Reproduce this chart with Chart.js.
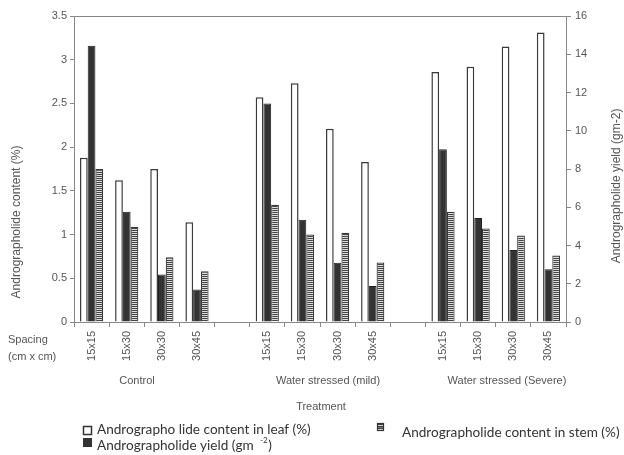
<!DOCTYPE html>
<html lang="en">
<head>
    <meta charset="UTF-8">
    <title>Andrographolide content and yield</title>
    <script src="https://cdn.jsdelivr.net/npm/chart.js"></script>
    <style>
        html, body {
            margin: 0;
            padding: 0;
            background: #fff;
        }
        .container {
            width: 624px;
            height: 455px;
        }
    </style>
</head>
<body>

<div class="container">
    <canvas id="andro-chart" width="624" height="455"></canvas>
</div>

<script>
    // categories (empty slots separate the three treatments)
    const spacings = ['15x15', '15x30', '30x30', '30x45', '',
                      '15x15', '15x30', '30x30', '30x45', '',
                      '15x15', '15x30', '30x30', '30x45'];
    const treatments = ['Control', 'Water stressed (mild)', 'Water stressed (Severe)'];

    // series values
    const leafContent = [1.88, 1.62, 1.75, 1.14, null, 2.57, 2.73, 2.21, 1.83, null, 2.86, 2.92, 3.15, 3.31];
    const yieldValues = [14.45, 5.77, 2.48, 1.70, null, 11.42, 5.35, 3.10, 1.88, null, 9.03, 5.44, 3.76, 2.76];
    const stemContent = [1.75, 1.09, 0.74, 0.58, null, 1.34, 1.00, 1.02, 0.68, null, 1.26, 1.07, 0.99, 0.76];

    // axis ticks
    const leftTicks = [0, 0.5, 1, 1.5, 2, 2.5, 3, 3.5];
    const rightTicks = [0, 2, 4, 6, 8, 10, 12, 14, 16];

    const axisFont = { family: '"Liberation Sans", Arial, sans-serif', size: 11 };
    const legendFont = '13.6px Lato, "Open Sans", sans-serif';
    const grey = '#555';
    const lineGrey = '#888';

    function stripes() {
        const c = document.createElement('canvas');
        c.width = 4;
        c.height = 2;
        const g = c.getContext('2d');
        g.fillStyle = '#dcdcdc';
        g.fillRect(0, 0, 4, 2);
        g.fillStyle = '#444';
        g.fillRect(0, 0, 4, 1);
        return g.createPattern(c, 'repeat');
    }
    const stemPattern = stripes();

    const decorations = {
        id: 'decorations',
        afterDraw(chart) {
            const ctx = chart.ctx;
            const a = chart.chartArea;
            ctx.save();

            // frame around plot
            ctx.strokeStyle = lineGrey;
            ctx.lineWidth = 1;
            ctx.strokeRect(a.left + 0.5, a.top + 0.5, a.right - a.left, a.bottom - a.top);

            ctx.fillStyle = grey;
            ctx.font = '11px "Liberation Sans", Arial, sans-serif';
            ctx.textBaseline = 'middle';

            // spacing caption
            ctx.textAlign = 'left';
            ctx.fillText('Spacing', 8, 340);
            ctx.fillText('(cm x cm)', 8, 357);

            // treatment group labels
            ctx.textAlign = 'center';
            const groupX = [137, 328, 507];
            treatments.forEach((t, i) => ctx.fillText(t, groupX[i], 381));
            ctx.fillText('Treatment', 321, 407);

            // axis titles
            ctx.font = '12px "Liberation Sans", Arial, sans-serif';
            ctx.save();
            ctx.translate(17, 222);
            ctx.rotate(-Math.PI / 2);
            ctx.fillText('Andrographolide content (%)', 0, 0);
            ctx.restore();
            ctx.save();
            ctx.translate(617, 186);
            ctx.rotate(-Math.PI / 2);
            ctx.fillText('Andrographolide yield (gm-2)', 0, 0);
            ctx.restore();

            // legend
            ctx.font = legendFont;
            ctx.textAlign = 'left';
            ctx.strokeStyle = '#333';
            ctx.lineWidth = 1.5;
            ctx.fillStyle = '#fff';
            ctx.fillRect(83.5, 426.5, 8, 8);
            ctx.strokeRect(83.5, 426.5, 8, 8);
            ctx.fillStyle = '#333';
            ctx.fillText('Andrographo lide content in leaf (%)', 97, 430);

            ctx.fillRect(83, 438, 9, 9);
            const t2 = 'Andrographolide yield (gm ';
            ctx.fillText(t2, 97, 446);
            const w2 = ctx.measureText(t2).width;
            ctx.font = '8px Lato, "Open Sans", sans-serif';
            ctx.fillText('-2', 97 + w2 + 3, 440);
            ctx.font = legendFont;
            ctx.fillText(')', 97 + w2 + 11, 446);

            ctx.fillStyle = stemPattern;
            ctx.fillRect(377, 423, 7, 8);
            ctx.lineWidth = 1.2;
            ctx.strokeRect(377.5, 423.5, 6, 7);
            ctx.beginPath();
            ctx.moveTo(377.5, 427);
            ctx.lineTo(383.5, 427);
            ctx.stroke();
            ctx.fillStyle = '#333';
            ctx.fillText('Andrographolide content in stem (%)', 402, 433);

            ctx.restore();
        }
    };

    new Chart(document.getElementById('andro-chart'), {
        type: 'bar',
        data: {
            labels: spacings,
            datasets: [{
                label: 'Andrographo lide content in leaf (%)',
                data: leafContent,
                yAxisID: 'y',
                backgroundColor: '#ffffff',
                borderColor: '#3a3a3a',
                borderWidth: 1.5
            }, {
                label: 'Andrographolide yield (gm-2)',
                data: yieldValues,
                yAxisID: 'y1',
                backgroundColor: '#333333',
                borderColor: '#222222',
                borderWidth: 1
            }, {
                label: 'Andrographolide content in stem (%)',
                data: stemContent,
                yAxisID: 'y',
                backgroundColor: stemPattern,
                borderColor: '#3a3a3a',
                borderWidth: 1.2
            }]
        },
        options: {
            responsive: false,
            animation: false,
            categoryPercentage: 0.66,
            barPercentage: 1.0,
            layout: { padding: { top: 16 } },
            plugins: {
                legend: { display: false },
                tooltip: { enabled: false }
            },
            scales: {
                x: {
                    ticks: {
                        autoSkip: false,
                        minRotation: 90,
                        maxRotation: 90,
                        padding: 4,
                        color: grey,
                        font: axisFont
                    },
                    grid: { drawOnChartArea: false, tickLength: 5, color: lineGrey },
                    border: { color: lineGrey },
                    afterFit(scale) { scale.height = 133; }
                },
                y: {
                    position: 'left',
                    min: 0,
                    max: 3.5,
                    afterBuildTicks(scale) { scale.ticks = leftTicks.map(v => ({ value: v })); },
                    ticks: { color: grey, font: axisFont, padding: 3, callback: v => String(v) },
                    grid: { drawOnChartArea: false, tickLength: 4, color: lineGrey },
                    border: { color: lineGrey },
                    afterFit(scale) { scale.width = 74; }
                },
                y1: {
                    position: 'right',
                    min: 0,
                    max: 16,
                    afterBuildTicks(scale) { scale.ticks = rightTicks.map(v => ({ value: v })); },
                    ticks: { color: grey, font: axisFont, padding: 4, callback: v => String(v) },
                    grid: { drawOnChartArea: false, tickLength: 5, color: lineGrey },
                    border: { color: lineGrey },
                    afterFit(scale) { scale.width = 58; }
                }
            }
        },
        plugins: [decorations]
    });
</script>

</body>
</html>
